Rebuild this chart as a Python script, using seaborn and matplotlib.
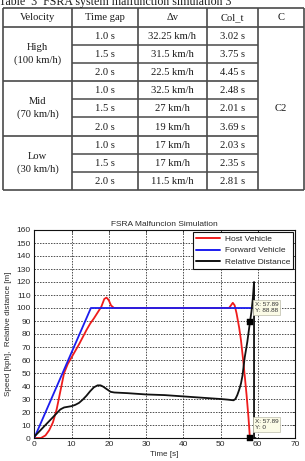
import numpy as np
import pandas as pd
import matplotlib
matplotlib.use("Agg")
import matplotlib.pyplot as plt
import seaborn as sns

# ---------------- data ----------------
caption = "Table  3  FSRA system malfunction simulation 3"
table_header = ["Velocity", "Time gap", "\u0394v", "Col_t", "C"]
velocity_groups = ["High\n(100 km/h)", "Mid\n(70 km/h)", "Low\n(30 km/h)"]
time_gaps = ["1.0 s", "1.5 s", "2.0 s"] * 3
delta_v = ["32.25 km/h", "31.5 km/h", "22.5 km/h", "32.5 km/h", "27 km/h",
           "19 km/h", "17 km/h", "17 km/h", "11.5 km/h"]
col_t = ["3.02 s", "3.75 s", "4.45 s", "2.48 s", "2.01 s", "3.69 s",
         "2.03 s", "2.35 s", "2.81 s"]
c_value = "C2"

chart_title = "FSRA Malfuncion Simulation"
series_names = ["Host Vehicle", "Forward Vehicle", "Relative Distance"]
series_colors = ["#ee1c1c", "#1c1cee", "#111111"]

host_t = [0, 1.8, 3, 4, 5, 6, 7, 8, 9, 10, 12, 14, 15, 16, 17, 18, 18.8, 19.4,
          20, 20.6, 21.4, 52.3, 52.8, 53.3, 53.8, 54.3, 55, 55.5, 56, 56.5, 57,
          57.5, 57.89]
host_v = [0, 0, 2, 6, 12, 22, 36, 50, 57, 62, 72, 83, 88, 92, 96.5, 101, 107,
          108, 106, 102, 100, 100, 102, 104, 102, 96, 85, 75, 62, 48, 33, 16, 0]

fwd_t = [0, 15.2, 58.5]
fwd_v = [0, 100, 100]

rel_t = [0, 1, 2, 3, 4, 5, 6, 7, 8, 9, 10, 11, 12, 13, 14, 15, 16, 17, 17.8,
         18.5, 19.5, 20.5, 21.5, 25, 30, 35, 40, 45, 50, 52, 53.5, 54, 54.5, 55,
         55.5, 55.9, 56.5, 57.2, 57.89, 58.3, 58.7, 59.0, 59.0, 59.4]
rel_d = [1, 4, 7, 10, 13, 16, 19, 22, 23.5, 24, 24.5, 25.5, 27, 29.5, 32.5, 36,
         39, 40.5, 40.5, 39.5, 37.5, 35.5, 35, 34.5, 33.5, 33, 32, 31, 30, 29.5,
         29, 30, 33, 37, 42, 48, 62, 74, 88.88, 97, 108, 120, 0, 0]

tips_x = [57.89, 57.89]
tips_y = [88.88, 0]

# ---------------- figure ----------------
sns.set_style("white")
plt.rcParams["font.family"] = ["Liberation Sans", "DejaVu Sans"]

W, H = 305, 461
fig = plt.figure(figsize=(W / 100, H / 100), dpi=100)

# ---- table (pixel-coordinate overlay) ----
tab = fig.add_axes([0, 0, 1, 1])
tab.set_xlim(0, W)
tab.set_ylim(H, 0)
tab.axis("off")
serif = ["Liberation Serif", "DejaVu Serif"]
tcol = "#1a1a1a"
lcol = "#4a4a4a"

tab.text(-1, 5, caption, family=serif, fontsize=8.6, color=tcol,
         ha="left", va="baseline")

col_edges = [3, 72, 138, 207, 258, 304]
top, head_bot, row_h = 8, 27, 18.1
row_edges = [head_bot + row_h * i for i in range(10)]
bottom = row_edges[-1]

tab.hlines([top, head_bot, bottom], col_edges[0], col_edges[-1], color=lcol, lw=1.2)
for i in range(1, 9):
    if i % 3 == 0:
        tab.hlines(row_edges[i], col_edges[0], col_edges[4], color=lcol, lw=1.2)
    else:
        tab.hlines(row_edges[i], col_edges[1], col_edges[4], color=lcol, lw=1.1)
tab.vlines(col_edges, top, bottom, color=lcol, lw=1.2)

fs_t = 7.6
for j, h in enumerate(table_header):
    tab.text((col_edges[j] + col_edges[j + 1]) / 2, (top + head_bot) / 2 + 0.5, h,
             family=serif, fontsize=fs_t, color=tcol, ha="center", va="center")
for g, name in enumerate(velocity_groups):
    yc = (row_edges[3 * g] + row_edges[3 * g + 3]) / 2
    tab.text((col_edges[0] + col_edges[1]) / 2, yc, name, family=serif,
             fontsize=fs_t, color=tcol, ha="center", va="center",
             linespacing=1.45, multialignment="center")
for i in range(9):
    yc = (row_edges[i] + row_edges[i + 1]) / 2 + 0.5
    for j, vals in zip([1, 2, 3], [time_gaps, delta_v, col_t]):
        tab.text((col_edges[j] + col_edges[j + 1]) / 2, yc, vals[i], family=serif,
                 fontsize=fs_t, color=tcol, ha="center", va="center")
tab.text((col_edges[4] + col_edges[5]) / 2, (row_edges[0] + bottom) / 2, c_value,
         family=serif, fontsize=fs_t, color=tcol, ha="center", va="center")

# ---- chart ----
ax_l, ax_r, ax_t, ax_b = 34.3, 295, 230, 438
ax = fig.add_axes([ax_l / W, (H - ax_b) / H, (ax_r - ax_l) / W, (ax_b - ax_t) / H])

df = pd.concat([
    pd.DataFrame({"t": host_t, "v": host_v, "series": series_names[0]}),
    pd.DataFrame({"t": fwd_t, "v": fwd_v, "series": series_names[1]}),
    pd.DataFrame({"t": rel_t, "v": rel_d, "series": series_names[2]}),
], ignore_index=True)

sns.lineplot(data=df, x="t", y="v", hue="series", hue_order=series_names,
             palette=series_colors, estimator=None, sort=False, lw=1.3, ax=ax)

# data tips markers
sns.scatterplot(x=tips_x, y=tips_y, marker="s", s=14, color="black",
                edgecolor="black", ax=ax, zorder=5, clip_on=False, legend=False)

ax.set_xlim(0, 70)
ax.set_ylim(0, 160)
ax.set_xticks(np.arange(0, 71, 10))
ax.set_yticks(np.arange(0, 161, 10))
ax.grid(True, color="#222222", linestyle=(0, (2.0, 1.6)), lw=0.55)
ax.set_axisbelow(True)
for s in ax.spines.values():
    s.set_color("#111111")
    s.set_linewidth(0.8)
ax.tick_params(direction="in", length=2.5, width=0.5, labelsize=6,
               labelcolor="#2a2a2a", top=True, right=True, pad=2.5)
ax.set_xlabel("Time [s]", fontsize=5.8, color="#2a2a2a", labelpad=1.5)
ax.set_ylabel("Speed [kph],  Relative distance [m]", fontsize=5.8,
              color="#2a2a2a", labelpad=3)
ax.set_title(chart_title, fontsize=6, color="#2a2a2a", pad=3)

handles, labels = ax.get_legend_handles_labels()
leg = ax.legend(handles[:3], labels[:3], loc="upper right", fontsize=6,
                frameon=True, fancybox=False, edgecolor="#111111", framealpha=1,
                handlelength=2.9, handletextpad=0.5, labelspacing=0.45,
                borderaxespad=0.25, borderpad=0.35)
leg.get_frame().set_linewidth(0.8)
for ln in leg.get_lines():
    ln.set_linewidth(1.4)

for x, y, dy in zip(tips_x, tips_y, [11, 9.5]):
    lbl = f"X: {x:.2f}\nY: {y:g}" if y == 0 else f"X: {x:.2f}\nY: {y:.2f}"
    ax.annotate(lbl, (x, y), xytext=(3.5, dy), textcoords="offset points",
                fontsize=4.6, color="#333333", ha="left", va="center",
                linespacing=1.3,
                bbox=dict(boxstyle="square,pad=0.3", fc="#fbfbe6",
                          ec="#bbbbaa", lw=0.5), zorder=6)

fig.savefig("out.png", dpi=100)
